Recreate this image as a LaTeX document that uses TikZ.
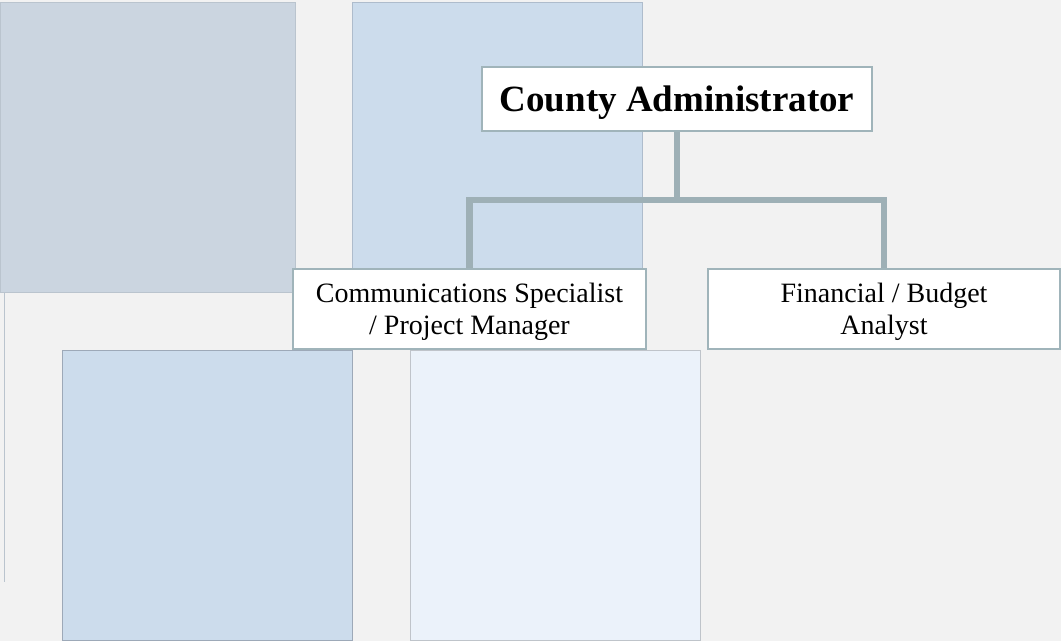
\documentclass[tikz,border=0pt]{standalone}
\usepackage{fontspec}
\setmainfont{Liberation Serif}
\definecolor{bgcol}{HTML}{F2F2F2}
\definecolor{tileA}{HTML}{CBD5E0}
\definecolor{tileAline}{HTML}{BAC4CE}
\definecolor{tileB}{HTML}{CCDCEC}
\definecolor{tileBline}{HTML}{AEBCCC}
\definecolor{tileC}{HTML}{EBF2FA}
\definecolor{tileCline}{HTML}{BFC4CA}
\definecolor{boxline}{HTML}{A0B4BA}
\definecolor{connline}{HTML}{9EB0B6}

\begin{document}
\begin{tikzpicture}[x=1bp, y=-1bp,
    tile/.style={line width=0.8bp},
    orgbox/.style={draw=boxline, line width=2.5bp, fill=white, align=center,
        inner sep=0pt, text depth=0bp, font=\fontsize{28bp}{32bp}\selectfont},
    conn/.style={draw=connline, line width=6.5bp}]
    \fill[bgcol] (0,0) rectangle (1061,641);
    \useasboundingbox (0,0) rectangle (1061,641);
    % tiles behind the chart
    \filldraw[tile, fill=tileA, draw=tileAline] (0,2) rectangle (295,292);
    \filldraw[tile, fill=tileB, draw=tileBline] (352,2) rectangle (642,292);
    \draw[tile, draw=tileAline] (294,292) -| (4,582);
    \filldraw[tile, fill=tileB, draw=tileBline!90!black] (62,350) rectangle (352,640);
    \filldraw[tile, fill=tileC, draw=tileCline] (410,350) rectangle (700,640);
    % chart
    \node[orgbox, minimum width=390bp, minimum height=64bp,
        font=\fontsize{37bp}{40bp}\selectfont\bfseries] (ca) at (677,99) {County Administrator};
    \node[orgbox, minimum width=353bp, minimum height=80bp] (comm) at (469.5,309)
        {Communications Specialist\\/ Project Manager};
    \node[orgbox, minimum width=352bp, minimum height=80bp] (fin) at (884,309)
        {Financial / Budget\\Analyst};
    \coordinate (bus) at (677,200);
    \draw[conn] (ca) -- (bus) -| (comm);
    \draw[conn] (bus) -| (fin);
\end{tikzpicture}
\end{document}
